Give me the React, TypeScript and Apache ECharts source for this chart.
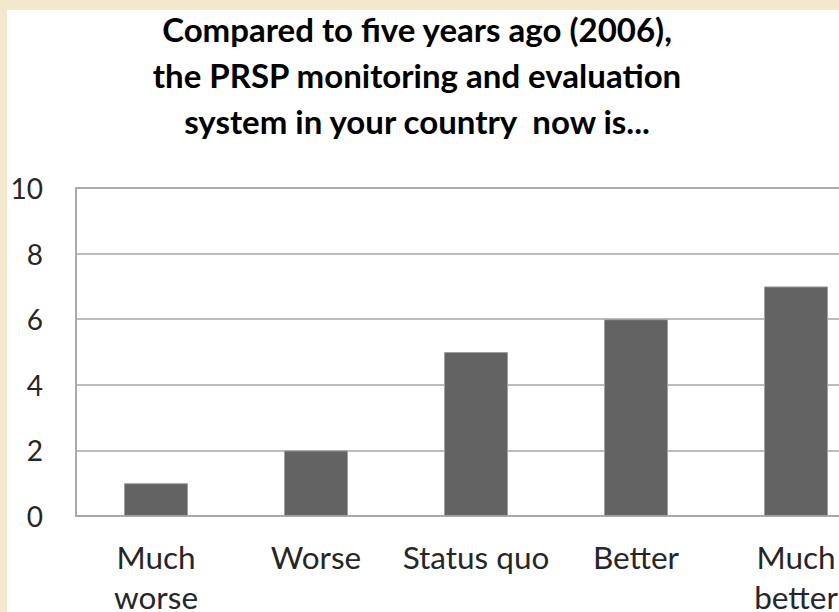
import React, { useEffect, useRef } from "react";
import * as echarts from "echarts";

const titleLines = [
  "Compared to five years ago (2006),",
  "the PRSP monitoring and evaluation",
  "system in your country  now is...",
];
const categories = ["Much\nworse", "Worse", "Status quo", "Better", "Much\nbetter"];
const values = [1, 2, 5, 6, 7];
const yMin = 0;
const yMax = 10;
const yStep = 2;

export default function App() {
  const ref = useRef<HTMLDivElement>(null);
  useEffect(() => {
    if (!ref.current) return;
    const chart = echarts.init(ref.current, null, { renderer: "svg" });
    chart.setOption({
      animation: false,
      backgroundColor: "#ffffff",
      graphic: titleLines.map((line, i) => ({
        type: "text",
        x: 410,
        y: 19 + i * 46,
        style: {
          text: line,
          fontFamily: "Lato",
          fontWeight: "bold",
          fontSize: 33,
          fill: "#000000",
          textAlign: "center",
          textVerticalAlign: "middle",
        },
      })),
      grid: {
        left: 69,
        right: 11,
        top: 178,
        bottom: 93,
        show: true,
        borderColor: "#a6a6a6",
        borderWidth: 1.5,
        backgroundColor: "transparent",
      },
      xAxis: {
        type: "category",
        data: categories,
        axisTick: { show: false },
        axisLine: { show: true, lineStyle: { color: "#a6a6a6", width: 1.5 } },
        axisLabel: {
          interval: 0,
          margin: 21,
          fontFamily: "Lato",
          fontSize: 31.5,
          lineHeight: 40,
          color: "#262626",
        },
      },
      yAxis: {
        type: "value",
        min: yMin,
        max: yMax,
        interval: yStep,
        axisTick: { show: false },
        axisLine: { show: true, lineStyle: { color: "#a6a6a6", width: 1.5 } },
        splitLine: { show: true, lineStyle: { color: "#a6a6a6", width: 1.5 } },
        axisLabel: {
          margin: 33,
          fontFamily: "Lato",
          fontSize: 28,
          color: "#262626",
        },
      },
      series: [
        {
          type: "bar",
          data: values,
          barWidth: "40%",
          itemStyle: { color: "#636363", borderColor: "#a0a0a0", borderWidth: 1 },
        },
      ],
    });
    return () => chart.dispose();
  }, []);

  return (
    <div
      style={{
        position: "fixed",
        left: 0,
        top: 0,
        width: 839,
        height: 612,
        overflow: "hidden",
        background: "#f3e8cd",
      }}
    >
      <div
        ref={ref}
        style={{ position: "absolute", left: 7, top: 10, width: 880, height: 607, background: "#ffffff" }}
      />
    </div>
  );
}
